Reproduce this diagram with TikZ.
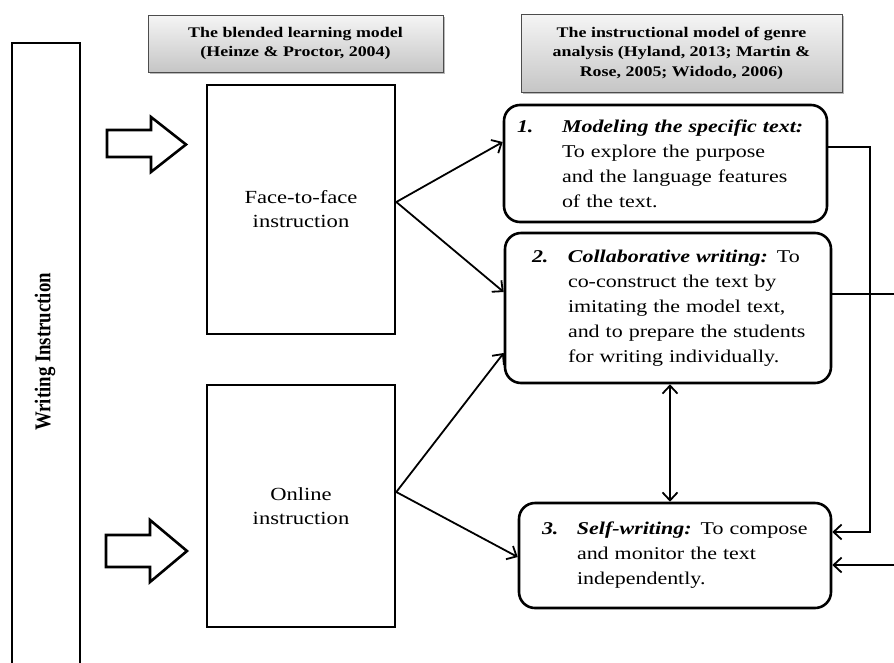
\documentclass[tikz,border=0pt]{standalone}
\usepackage{fontspec}
\setmainfont{Liberation Serif}[FakeStretch=1.22]
\newfontfamily\plainserif{Liberation Serif}
\usetikzlibrary{arrows.meta,shadows,calc}
\begin{document}
\begin{tikzpicture}[x=1pt,y=-1pt,
  sq/.style={draw, line width=2.6pt, rectangle, inner sep=0pt, align=center,
    font=\fontsize{18.5}{24}\selectfont},
  rbox/.style={draw, line width=2.6pt, rounded corners=16pt, inner sep=0pt,
    align=left, font=\fontsize{18}{25}\selectfont},
  hdr/.style={draw=black!70, line width=0.8pt, inner sep=0pt, top color=gray!8,
    bottom color=gray!45, drop shadow={shadow xshift=2pt,shadow yshift=-2pt,opacity=0.55},
    align=center, font=\fontsize{14.7}{19.5}\selectfont\bfseries},
  conn/.style={line width=1.8pt, -{Straight Barb[length=8pt,width=15pt,line width=1.8pt]}},
  dconn/.style={line width=1.8pt, {Straight Barb[length=8pt,width=15pt,line width=1.8pt]}-{Straight Barb[length=8pt,width=15pt,line width=1.8pt]}},
  plain/.style={line width=1.8pt},
  blockarrow/.style={draw, line width=2.6pt, fill=white, line join=miter}
]
\useasboundingbox (0,0) rectangle (894,662);
\clip (0,0) rectangle (894,662);
\fill[white] (0,0) rectangle (894,662);

% left tall box
\node[draw, line width=2.6pt, rectangle, inner sep=0pt, minimum width=68pt, minimum height=647pt] (wi) at (46,366.5) {};
\node[rotate=90, font=\plainserif\fontsize{18.8}{22}\selectfont\bfseries] (wilabel) at (45,352) {\scalebox{1}[1.2]{Writing Instruction}};

% headers
\node[hdr, minimum width=295pt, minimum height=57pt] (h1) at (295.5,43.5)
  {The blended learning model\\(Heinze \& Proctor, 2004)};
\node[hdr, minimum width=321pt, minimum height=78pt] (h2) at (681.5,53)
  {The instructional model of genre\\analysis (Hyland, 2013; Martin \&\\Rose, 2005; Widodo, 2006)};

% block arrows
\path[blockarrow] (107,130) -- (151,130) -- (151,117) -- (186,144.5) -- (151,172) -- (151,157) -- (107,157) -- cycle;
\path[blockarrow] (106,535) -- (150,535) -- (150,520) -- (187,551) -- (150,582) -- (150,567) -- (106,567) -- cycle;

% blended boxes
\node[sq, minimum width=188pt, minimum height=249pt] (face) at (301,209.5) {Face-to-face\\instruction};
\node[sq, minimum width=188pt, minimum height=242pt] (online) at (301,506) {Online\\instruction};

% genre boxes
\node[rbox, text width=323pt, minimum height=117pt] (b1) at (665.5,163.5)
  {\hspace*{13pt}\makebox[45pt][l]{\bfseries\itshape 1.}{\bfseries\itshape Modeling the specific text:}\\
   \hspace*{58pt}To explore the purpose\\
   \hspace*{58pt}and the language features\\
   \hspace*{58pt}of the text.};
\node[rbox, text width=326pt, minimum height=150pt] (b2) at (668,308)
  {\hspace*{27pt}\makebox[36pt][l]{\bfseries\itshape 2.}{\bfseries\itshape Collaborative writing:} To\\
   \hspace*{63pt}co-construct the text by\\
   \hspace*{63pt}imitating the model text,\\
   \hspace*{63pt}and to prepare the students\\
   \hspace*{63pt}for writing individually.};
\node[rbox, text width=312pt, minimum height=105pt] (b3) at (675,555.5)
  {\hspace*{23pt}\makebox[35pt][l]{\bfseries\itshape 3.}{\bfseries\itshape Self-writing:} To compose\\
   \hspace*{58pt}and monitor the text\\
   \hspace*{58pt}independently.};

% connectors
\draw[conn] ([yshift=7.5pt]face.east) -- ([yshift=21.5pt]b1.west);
\draw[conn] ([yshift=7.5pt]face.east) -- ([yshift=16pt]b2.west);
\draw[conn] ([yshift=14pt]online.east) -- ([yshift=-45pt]b2.west);
\draw[conn] ([yshift=14pt]online.east) -- ([yshift=-1.5pt]b3.west);
\draw[dconn] ([xshift=2pt]b2.south) -- ([xshift=2pt]b2.south |- b3.north);
\draw[conn] ([yshift=16.5pt]b1.east) -- ++(42,0) |- ([yshift=23.5pt]b3.east);
\coordinate (rt1) at (900,294);
\coordinate (rt2) at (900,565);
\draw[plain] ([yshift=14pt]b2.east) -- (rt1);
\draw[conn] (rt2) -- (rt2 -| b3.east);
\end{tikzpicture}
\end{document}
